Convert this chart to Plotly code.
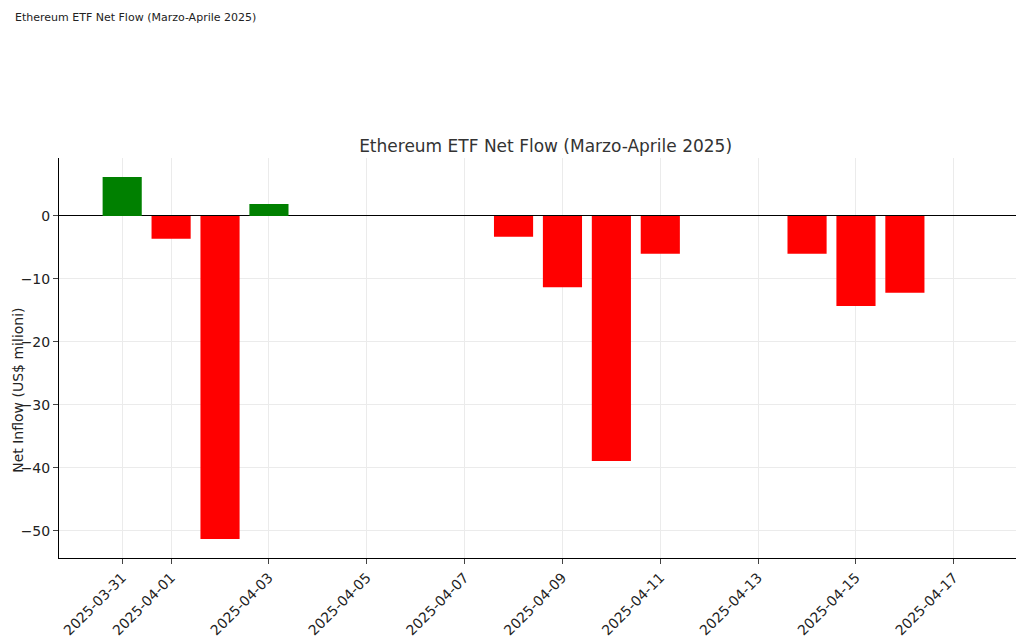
import plotly.graph_objects as go

dates = ["2025-03-31", "2025-04-01", "2025-04-02", "2025-04-03", "2025-04-08",
         "2025-04-09", "2025-04-10", "2025-04-11", "2025-04-14", "2025-04-15", "2025-04-16"]
flows = [6.2, -3.6, -51.3, 1.9, -3.3, -11.3, -38.9, -6.0, -6.0, -14.3, -12.2]
tick_dates = ["2025-03-31", "2025-04-01", "2025-04-03", "2025-04-05", "2025-04-07",
              "2025-04-09", "2025-04-11", "2025-04-13", "2025-04-15", "2025-04-17"]

colors = ["green" if v > 0 else "red" for v in flows]
day_ms = 86400000

fig = go.Figure(go.Bar(x=dates, y=flows, marker_color=colors, marker_line_width=0,
                       width=0.8 * day_ms))

fig.update_layout(
    width=1024, height=637,
    paper_bgcolor="white", plot_bgcolor="white",
    margin=dict(l=51, r=15, t=150, b=87),
    font=dict(family="DejaVu Sans", color="#222"),
    title=dict(text="Ethereum ETF Net Flow (Marzo-Aprile 2025)", x=0.525, xanchor="center",
               y=1 - 138 / 637, yanchor="middle", font=dict(size=17, color="#333")),
    showlegend=False,
    annotations=[
        dict(text="Ethereum ETF Net Flow (Marzo-Aprile 2025)", xref="paper", yref="paper",
             x=-46 / 958, y=1 + 140 / 400, xanchor="left", yanchor="middle",
             showarrow=False, font=dict(size=11, color="#222")),
        # y axis title placed by hand (standoff is ignored without automargin)
        dict(text="Net Inflow (US$ milioni)", xref="paper", yref="paper",
             x=-0.043, y=0.42, xanchor="center", yanchor="middle", textangle=-90,
             showarrow=False, font=dict(size=14, color="#222")),
    ],
)
fig.update_xaxes(type="date", range=["2025-03-29 17:00", "2025-04-18 07:00"], automargin=False,
                 tickvals=tick_dates, ticktext=tick_dates, tickangle=-45,
                 tickfont=dict(size=14), showgrid=True, gridcolor="#ebebeb",
                 showline=True, linecolor="black", ticks="outside", ticklen=5)
fig.update_yaxes(range=[-54.3, 9.2], automargin=False, tickvals=[0, -10, -20, -30, -40, -50],
                 ticktext=["0", "−10", "−20", "−30", "−40", "−50"],
                 tickfont=dict(size=14), showgrid=True, gridcolor="#ebebeb",
                 zeroline=True, zerolinecolor="black", zerolinewidth=1,
                 showline=True, linecolor="black", ticks="outside", ticklen=5)

fig.write_html("out.html")
